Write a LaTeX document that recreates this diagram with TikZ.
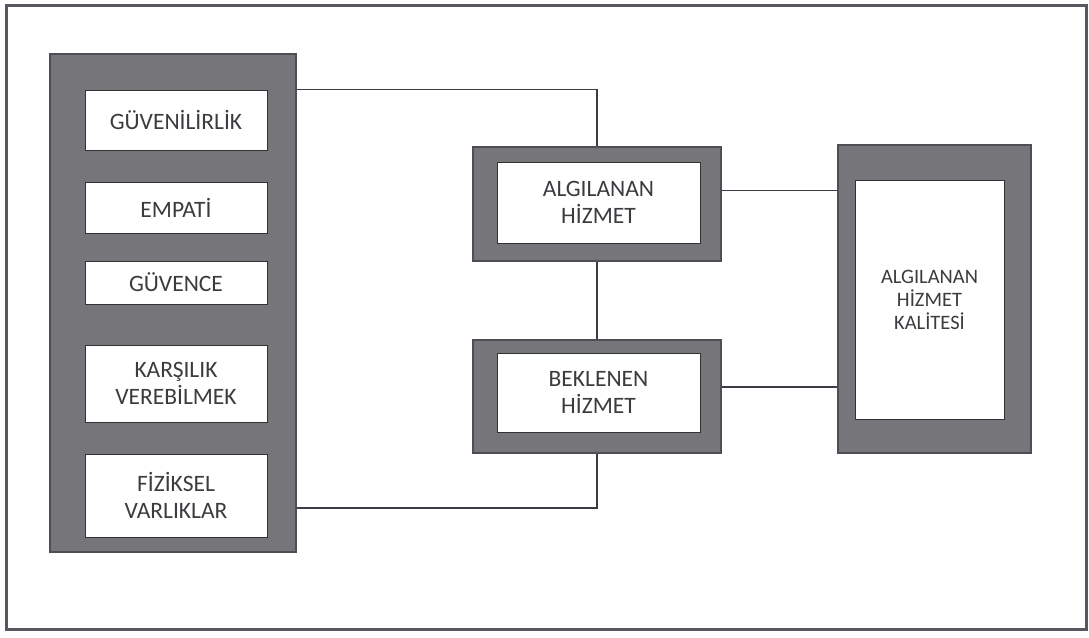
\documentclass[tikz,border=0pt]{standalone}
\usepackage{fontspec}
\setmainfont{Carlito}
\definecolor{panelfill}{RGB}{118,118,122}
\definecolor{paneledge}{RGB}{78,78,84}
\definecolor{framecol}{RGB}{88,88,98}
\definecolor{txt}{RGB}{60,60,64}
\definecolor{wire}{RGB}{60,60,68}
\begin{document}
\begin{tikzpicture}[x=1pt,y=-1pt,
  panel/.style={draw=paneledge,line width=1.5pt,fill=panelfill,rectangle,inner sep=0pt},
  wbox/.style={draw=black!80,line width=0.8pt,fill=white,rectangle,inner sep=0pt,align=center,
     text=txt,font=\fontsize{23.5}{27}\selectfont},
  rbox/.style={wbox,font=\fontsize{20.5}{23}\selectfont},
  wire/.style={draw=wire,line width=1.3pt}]
\useasboundingbox (0,0) rectangle (1089,637);
\fill[white] (0,0) rectangle (1089,637);
\draw[framecol,line width=3pt] (6,5) rectangle (1086,629);
% left panel
\node[panel,minimum width=246pt,minimum height=498pt] (L) at (173,303) {};
\node[wbox,minimum width=182pt,minimum height=60pt] (G1) at (176,120) {GÜVENİLİRLİK};
\node[wbox,minimum width=182pt,minimum height=51pt] (E) at (176,207.5) {EMPATİ};
\node[wbox,minimum width=182pt,minimum height=43pt] (GV) at (176,282.5) {GÜVENCE};
\node[wbox,minimum width=182pt,minimum height=77pt] (K) at (176,383.5) {KARŞILIK\\VEREBİLMEK};
\node[wbox,minimum width=182pt,minimum height=83pt] (F) at (176,495.5) {FİZİKSEL\\VARLIKLAR};
% middle
\node[panel,minimum width=248pt,minimum height=114pt] (A) at (597,204) {};
\node[wbox,minimum width=203pt,minimum height=81pt] (Ai) at (598.5,202.5) {ALGILANAN\\HİZMET};
\node[panel,minimum width=248pt,minimum height=113pt] (B) at (597,396.5) {};
\node[wbox,minimum width=203pt,minimum height=79pt] (Bi) at (598.5,392.5) {BEKLENEN\\HİZMET};
% right
\node[panel,minimum width=193pt,minimum height=308pt] (R) at (934.5,299) {};
\node[rbox,minimum width=149pt,minimum height=239pt] (Ri) at (929.5,299.5) {ALGILANAN\\HİZMET\\KALİTESİ};
% connectors
\coordinate (t1) at (G1.north -| L.east);
\coordinate (t2) at ([yshift=-12.5pt]F.center -| L.east);
\coordinate (a1) at ([yshift=13.5pt]A.east);
\coordinate (b1) at ([yshift=9.5pt]B.east);
\draw[wire] (t1) -| (A.north);
\draw[wire] (A.south) -- (B.north);
\draw[wire] (t2) -| (B.south);
\draw[wire] (a1) -- (a1 -| R.west);
\draw[wire] (b1) -- (b1 -| R.west);
\end{tikzpicture}
\end{document}
